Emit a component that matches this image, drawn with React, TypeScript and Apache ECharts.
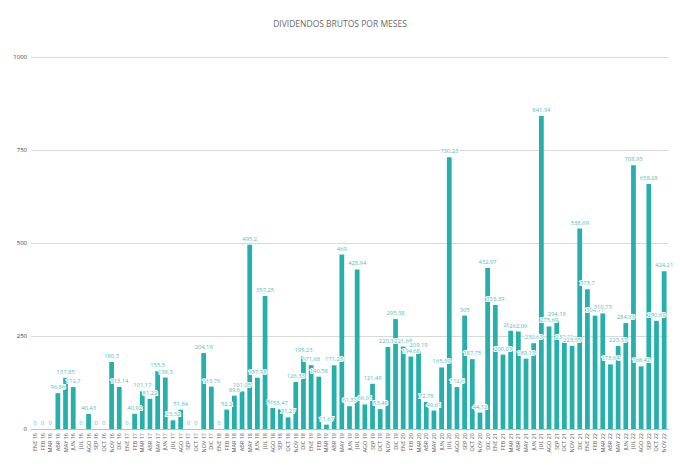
import React, { useEffect, useRef } from "react";
import * as echarts from "echarts";

const MONTHS = ["ENE", "FEB", "MAR", "ABR", "MAY", "JUN", "JUL", "AGO", "SEP", "OCT", "NOV", "DIC"];
const YEARS = ["16", "17", "18", "19", "20", "21", "22"];

const v2016 = [0, 0, 0, 96.36, 137.85, 112.7, 0, 40.43, 0, 0, 180.3, 113.14];
const v2017 = [0, 40.92, 101.17, 81.22, 155.5, 138.3, 23.32, 51.84, 0, 0, 204.18, 113.76];
const v2018 = [0, 52.2, 89.6, 101.05, 495.2, 137.98, 357.25, 56.5, 53.47, 31.27, 126.33, 195.23];
const v2019 = [171.68, 140.58, 11.67, 171.28, 469, 61.33, 428.94, 66.01, 121.49, 53.48, 220.34, 295.38];
const v2020 = [221.68, 194.68, 209.19, 72.78, 49.61, 165.39, 730.23, 112.6, 305, 187.75, 44.12, 432.97];
const v2021 = [333.39, 200.03, 264.2, 262.06, 189.13, 230.63, 841.34, 275.69, 294.18, 232.21, 223.55, 538.69];
const v2022 = [375.7, 304.71, 310.73, 173.64, 223.33, 284.63, 708.93, 168.42, 658.28, 290.69, 424.21];

const yearValues = [v2016, v2017, v2018, v2019, v2020, v2021, v2022];

const categories: string[] = [];
const values: number[] = [];
yearValues.forEach((arr, yi) => {
  arr.forEach((v, mi) => {
    categories.push(MONTHS[mi] + " " + YEARS[yi]);
    values.push(v);
  });
});

const Y_TICKS = [0, 250, 500, 750, 1000];

export default function App() {
  const ref = useRef<HTMLDivElement>(null);
  useEffect(() => {
    if (!ref.current) return;
    const chart = echarts.init(ref.current, undefined, { renderer: "svg" });
    chart.setOption({
      animation: false,
      backgroundColor: "#ffffff",
      title: {
        text: "DIVIDENDOS BRUTOS POR MESES",
        left: "center",
        top: 14,
        textStyle: {
          fontFamily: "Open Sans",
          fontSize: 8.5,
          fontWeight: "normal",
          color: "#6a6a6a",
        },
      },
      grid: { left: 31, right: 12, top: 57, bottom: 46, containLabel: false },
      xAxis: {
        type: "category",
        data: categories,
        axisTick: { show: false },
        axisLine: { lineStyle: { color: "#bfbfbf", width: 1 } },
        axisLabel: {
          interval: 0,
          rotate: 90,
          fontSize: 5.5,
          color: "#595959",
          fontFamily: "Open Sans",
          margin: 4,
        },
      },
      yAxis: {
        type: "value",
        min: Y_TICKS[0],
        max: Y_TICKS[Y_TICKS.length - 1],
        interval: 250,
        axisLine: { show: false },
        axisTick: { show: false },
        splitLine: { lineStyle: { color: "#d9d9d9", width: 1 } },
        axisLabel: {
          fontSize: 6,
          color: "#404040",
          fontFamily: "Open Sans",
          margin: 4,
          formatter: (v: number) => String(v),
        },
      },
      series: [
        {
          type: "bar",
          data: values,
          barCategoryGap: "38%",
          itemStyle: { color: "#26b0ab" },
          label: {
            show: true,
            position: "top",
            distance: 3,
            fontSize: 5.8,
            fontFamily: "Open Sans",
            color: "#4fc1bc",
            textBorderColor: "#ffffff",
            textBorderWidth: 2,
            formatter: (p: any) => String(p.value).replace(".", ","),
          },
        },
      ],
    });
    return () => chart.dispose();
  }, []);
  return (
    <div
      ref={ref}
      style={{ position: "fixed", left: 0, top: 0, width: 680, height: 475 }}
    />
  );
}
